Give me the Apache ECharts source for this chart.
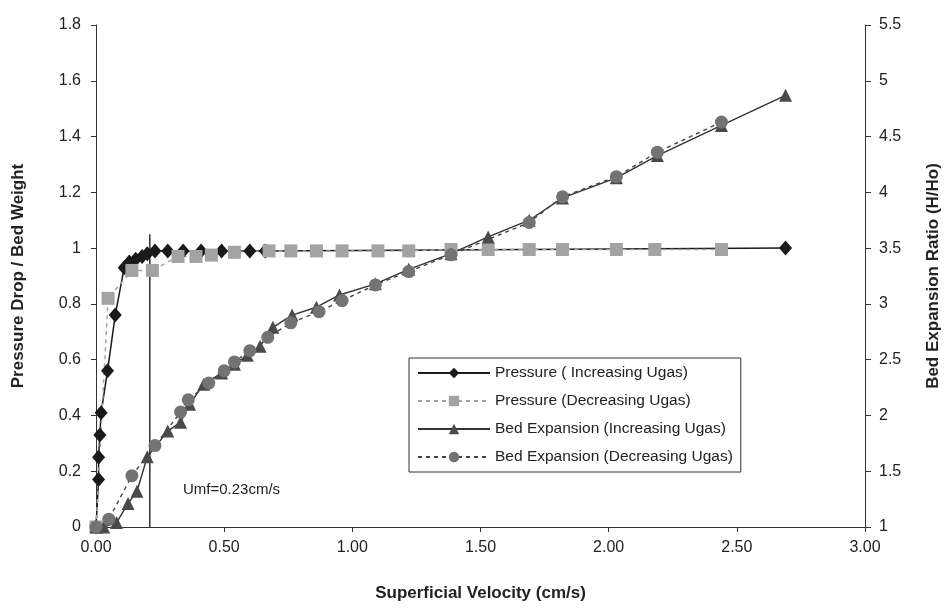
<!DOCTYPE html>
<html lang="en">
<head>
  <meta charset="UTF-8">
  <title>Pressure drop and bed expansion</title>
  <script src="https://cdn.jsdelivr.net/npm/echarts@6/dist/echarts.min.js"></script>
  <style>
    html, body { margin: 0; padding: 0; background: #fff; }
    #main { width: 950px; height: 612px; }
  </style>
</head>
<body>
  <div id="main"></div>
  <script>
    // pressure drop / bed weight, increasing gas velocity (black diamonds)
    var pIncX = [0, 0.01, 0.01, 0.015, 0.02, 0.045, 0.075, 0.11, 0.13, 0.155, 0.18, 0.2, 0.23, 0.28, 0.34, 0.41, 0.49, 0.6, 0.66, 2.69]
    var pIncY = [0, 0.17, 0.25, 0.33, 0.41, 0.56, 0.76, 0.93, 0.95, 0.96, 0.97, 0.98, 0.99, 0.99, 0.99, 0.99, 0.99, 0.99, 0.99, 1.0]

    // pressure drop / bed weight, decreasing gas velocity (grey squares)
    var pDecX = [0, 0.047, 0.14, 0.22, 0.32, 0.39, 0.45, 0.54, 0.675, 0.76, 0.86, 0.96, 1.1, 1.22, 1.385, 1.53, 1.69, 1.82, 2.03, 2.18, 2.44]
    var pDecY = [0, 0.82, 0.92, 0.92, 0.97, 0.97, 0.975, 0.985, 0.99, 0.99, 0.99, 0.99, 0.99, 0.99, 0.995, 0.995, 0.995, 0.995, 0.995, 0.995, 0.995]

    // bed expansion ratio H/Ho, increasing gas velocity (triangles)
    var bIncX = [0, 0.03, 0.08, 0.125, 0.16, 0.2, 0.28, 0.33, 0.365, 0.42, 0.49, 0.54, 0.59, 0.64, 0.69, 0.765, 0.86, 0.95, 1.09, 1.22, 1.385, 1.53, 1.69, 1.82, 2.03, 2.19, 2.44, 2.69]
    var bIncY = [1.0, 1.0, 1.04, 1.21, 1.32, 1.63, 1.86, 1.94, 2.1, 2.28, 2.38, 2.46, 2.54, 2.62, 2.79, 2.9, 2.97, 3.08, 3.18, 3.31, 3.45, 3.6, 3.75, 3.95, 4.13, 4.33, 4.6, 4.87]

    // bed expansion ratio H/Ho, decreasing gas velocity (circles)
    var bDecX = [0, 0.05, 0.14, 0.23, 0.33, 0.36, 0.44, 0.5, 0.54, 0.6, 0.67, 0.76, 0.87, 0.96, 1.09, 1.22, 1.385, 1.69, 1.82, 2.03, 2.19, 2.44]
    var bDecY = [1.0, 1.07, 1.46, 1.73, 2.03, 2.14, 2.29, 2.4, 2.48, 2.58, 2.7, 2.83, 2.93, 3.03, 3.17, 3.29, 3.44, 3.73, 3.96, 4.14, 4.36, 4.63]

    // minimum fluidisation marker line
    var umfX = [0.21, 0.21]
    var umfY = [0, 1.05]

    var names = ['Pressure ( Increasing Ugas)', 'Pressure (Decreasing Ugas)', 'Bed Expansion (Increasing Ugas)', 'Bed Expansion (Decreasing Ugas)']

    function pairs(xs, ys) {
      return xs.map(function (x, i) { return [x, ys[i]] })
    }

    var font = 'Liberation Sans, Arial, sans-serif'
    var mCharts = echarts.init(document.getElementById('main'))

    var option = {
      animation: false,
      grid: { left: 96, right: 80, top: 25, bottom: 85 },
      legend: {
        data: names,
        orient: 'vertical',
        left: 409,
        top: 358,
        itemWidth: 72,
        itemHeight: 13,
        itemGap: 12,
        padding: [7, 8, 7, 8],
        borderColor: '#333',
        borderWidth: 1,
        borderRadius: 0,
        textStyle: { fontFamily: font, fontSize: 15.5, color: '#222', lineHeight: 16 }
      },
      xAxis: {
        type: 'value',
        min: 0, max: 3, interval: 0.5,
        name: 'Superficial Velocity (cm/s)',
        nameLocation: 'middle',
        nameGap: 58,
        nameTextStyle: { fontFamily: font, fontSize: 17, fontWeight: 'bold', color: '#222' },
        axisLine: { lineStyle: { color: '#333', width: 1 } },
        axisTick: { show: true, length: 5, lineStyle: { color: '#333' } },
        axisLabel: {
          fontFamily: font, fontSize: 16, color: '#222', margin: 13,
          formatter: function (v) { return v.toFixed(2) }
        },
        splitLine: { show: false }
      },
      yAxis: [
        {
          type: 'value',
          min: 0, max: 1.8, interval: 0.2,
          name: 'Pressure Drop / Bed Weight',
          nameLocation: 'middle',
          nameGap: 69,
          nameTextStyle: { fontFamily: font, fontSize: 17, fontWeight: 'bold', color: '#222' },
          axisLine: { show: true, lineStyle: { color: '#333', width: 1 } },
          axisTick: { show: true, length: 5, lineStyle: { color: '#333' } },
          axisLabel: { fontFamily: font, fontSize: 16, color: '#222', margin: 15 },
          splitLine: { show: false }
        },
        {
          type: 'value',
          position: 'right',
          min: 1, max: 5.5, interval: 0.5,
          name: 'Bed Expansion Ratio (H/Ho)',
          nameLocation: 'middle',
          nameGap: 60,
          nameRotate: 90,
          nameTextStyle: { fontFamily: font, fontSize: 17, fontWeight: 'bold', color: '#222' },
          axisLine: { show: true, lineStyle: { color: '#333', width: 1 } },
          axisTick: { show: true, length: 6, lineStyle: { color: '#333' } },
          axisLabel: { fontFamily: font, fontSize: 16, color: '#222', margin: 14 },
          splitLine: { show: false }
        }
      ],
      graphic: [
        {
          type: 'text',
          left: 183,
          top: 482,
          style: { text: 'Umf=0.23cm/s', font: '15px ' + font, fill: '#222' }
        }
      ],
      series: [
        {
          name: 'Umf',
          type: 'line',
          data: pairs(umfX, umfY),
          showSymbol: false,
          symbol: 'none',
          lineStyle: { color: '#111', width: 1.3 },
          silent: true
        },
        {
          name: names[0],
          type: 'line',
          data: pairs(pIncX, pIncY),
          symbol: 'diamond',
          symbolSize: [13, 15],
          itemStyle: { color: '#1a1a1a' },
          lineStyle: { color: '#1a1a1a', width: 1.5 }
        },
        {
          name: names[1],
          type: 'line',
          data: pairs(pDecX, pDecY),
          symbol: 'rect',
          symbolSize: 13,
          itemStyle: { color: '#a3a3a3' },
          lineStyle: { color: '#a3a3a3', width: 1.5, type: [4, 4] }
        },
        {
          name: names[2],
          type: 'line',
          yAxisIndex: 1,
          data: pairs(bIncX, bIncY),
          symbol: 'triangle',
          symbolSize: 13,
          itemStyle: { color: '#4a4a4a' },
          lineStyle: { color: '#333', width: 1.4 }
        },
        {
          name: names[3],
          type: 'line',
          yAxisIndex: 1,
          data: pairs(bDecX, bDecY),
          symbol: 'circle',
          symbolSize: 13,
          itemStyle: { color: '#737373' },
          lineStyle: { color: '#444', width: 1.4, type: [4, 4] }
        }
      ]
    }

    mCharts.setOption(option)
    window.onresize = mCharts.resize
  </script>
</body>
</html>
